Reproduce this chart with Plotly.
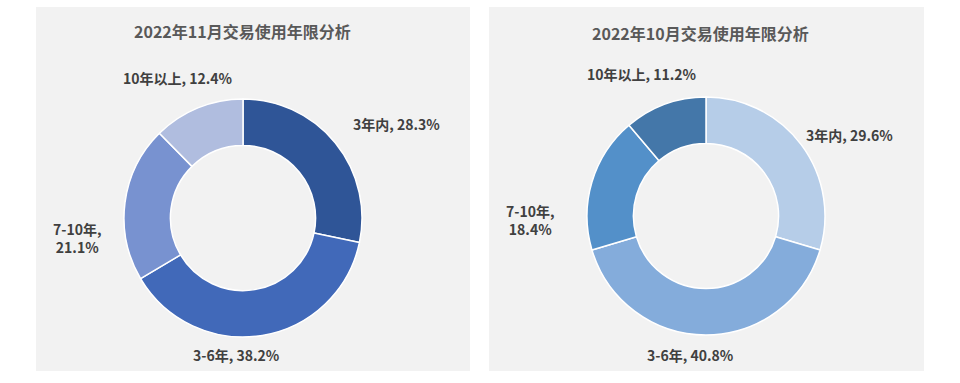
import plotly.graph_objects as go

W, H = 960, 383

categories = ["3年内", "3-6年", "7-10年", "10年以上"]
nov_values = [28.3, 38.2, 21.1, 12.4]
oct_values = [29.6, 40.8, 18.4, 11.2]
nov_title = "2022年11月交易使用年限分析"
oct_title = "2022年10月交易使用年限分析"
nov_colors = ["#2f5597", "#4169b9", "#7892d0", "#b0bddf"]
oct_colors = ["#b6cde8", "#84acdb", "#5390c9", "#4477a9"]

FONT = "Noto Sans CJK SC"
TXT = "#404040"

def px(x):
    return x / W

def py(y):
    return 1 - y / H

fig = go.Figure()

panels = [
    dict(x0=36, x1=470, cx=243, cy=218, r=119, title=nov_title, tx=242, ty=31,
         values=nov_values, colors=nov_colors,
         lab=[(396, 124, "3年内, {:.1f}%"), (236, 355, "3-6年, {:.1f}%"),
              (77, 238, "7-10年,<br>{:.1f}%"), (178, 78, "10年以上, {:.1f}%")]),
    dict(x0=489, x1=924, cx=706, cy=216, r=119, title=oct_title, tx=700, ty=33,
         values=oct_values, colors=oct_colors,
         lab=[(849, 135, "3年内, {:.1f}%"), (690, 355, "3-6年, {:.1f}%"),
              (530, 220, "7-10年,<br>{:.1f}%"), (642, 74, "10年以上, {:.1f}%")]),
]

shapes = []
annotations = []
for p in panels:
    shapes.append(dict(type="rect", xref="paper", yref="paper",
                       x0=px(p["x0"]), x1=px(p["x1"]), y0=py(371), y1=py(7),
                       fillcolor="#f2f2f2", line=dict(width=0), layer="below"))
    fig.add_trace(go.Pie(
        labels=categories, values=p["values"], hole=0.61, sort=False,
        direction="clockwise", rotation=0,
        marker=dict(colors=p["colors"], line=dict(color="#ffffff", width=1.5)),
        textinfo="none", hoverinfo="label+percent", showlegend=False,
        domain=dict(x=[px(p["cx"] - p["r"]), px(p["cx"] + p["r"])],
                    y=[py(p["cy"] + p["r"]), py(p["cy"] - p["r"])]),
    ))
    annotations.append(dict(text="<b>" + p["title"] + "</b>", x=px(p["tx"]), y=py(p["ty"]),
                            xref="paper", yref="paper", showarrow=False,
                            xanchor="center", yanchor="middle",
                            font=dict(family=FONT, size=16, color="#595959")))
    for (lx, ly, fmt), v in zip(p["lab"], p["values"]):
        annotations.append(dict(text="<b>" + fmt.format(v) + "</b>", x=px(lx), y=py(ly),
                                xref="paper", yref="paper", showarrow=False,
                                xanchor="center", yanchor="middle", align="center",
                                font=dict(family=FONT, size=14, color=TXT)))

fig.update_layout(
    width=W, height=H, margin=dict(l=0, r=0, t=0, b=0),
    paper_bgcolor="#ffffff", plot_bgcolor="#ffffff",
    shapes=shapes, annotations=annotations,
)

fig.write_html("out.html", config={"displayModeBar": False},
               post_script="document.body.style.margin='0';document.body.style.overflow='hidden';")
